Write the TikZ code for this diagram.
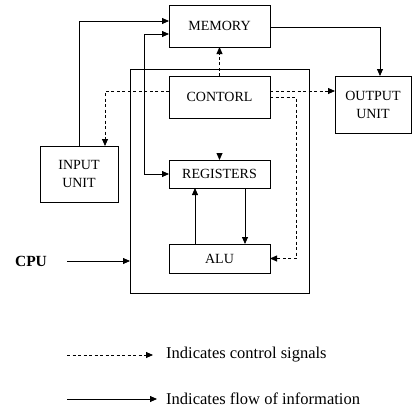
\documentclass[tikz,border=0pt]{standalone}
\usepackage{fontspec}
\setmainfont{Liberation Serif}
\usetikzlibrary{arrows.meta, positioning}

\begin{document}
\begin{tikzpicture}[x=1pt,y=-1pt]
    \tikzstyle{unit} = [rectangle, draw, line width=0.8pt, inner sep=0pt, outer sep=0pt, minimum width=101pt, align=center, font=\fontsize{14}{18}\selectfont]
    \tikzstyle{frame} = [rectangle, draw, line width=0.8pt, inner sep=0pt, outer sep=0pt]
    \tikzstyle{arrow} = [-{Triangle[length=7pt,width=6pt]}, line width=0.8pt]
    \tikzstyle{ctrl} = [arrow, dash pattern=on 3pt off 2.5pt]
    \tikzstyle{note} = [anchor=west, inner sep=0pt, font=\fontsize{16.5}{20}\selectfont]
    \useasboundingbox (0,0) rectangle (412,416);
    \node (memory) [unit, minimum height=42pt] at (219.5,26) {MEMORY};
    \node (control) [unit, minimum height=42pt, below=29pt of memory] {CONTORL};
    \node (registers) [unit, minimum height=28pt, below=42pt of control] {REGISTERS};
    \node (alu) [unit, minimum height=29pt, below=56pt of registers] {ALU};
    \node (cpubox) [frame, minimum width=179pt, minimum height=224pt] at (219.5,181) {};
    \node (output) [unit, minimum width=76pt, minimum height=57pt] at (373,104.5) {OUTPUT\\UNIT};
    \node (input) [unit, minimum width=78pt, minimum height=56pt] at (79,174) {INPUT\\UNIT};
    \node (cpu) [inner sep=0pt, font=\fontsize{15.5}{18}\selectfont\bfseries] at (31,261) {CPU};
    \node (ctrlnote) [note] at (166,355) {Indicates control signals};
    \node (flownote) [note] at (166,399) {Indicates flow of information};
    \coordinate (ctrlout) at ([yshift=6pt]control.east);
    \coordinate (regstub) at ([yshift=7pt]registers.north);
    % information flow
    \draw [arrow] (input.north) |- ([yshift=5pt]memory.west);
    \draw [{Triangle[length=7pt,width=6pt]}-{Triangle[length=7pt,width=6pt]}, line width=0.8pt] ([yshift=-8pt]memory.west) -- ++(-25,0) |- (registers.west);
    \draw [arrow] ([yshift=-1pt]memory.east) -| ([xshift=7pt]output.north);
    \draw [arrow] ([xshift=-24.5pt]alu.north) -- ([xshift=-24.5pt]registers.south);
    \draw [arrow] ([xshift=25.5pt]registers.south) -- ([xshift=25.5pt]alu.north);
    \draw [arrow] ([xshift=20pt]cpu.east) -- (cpu.east -| cpubox.west);
    % control signals
    \draw [ctrl] (control.north) -- (memory.south);
    \draw [ctrl] ([yshift=6pt]control.west) -| ([xshift=26pt]input.north);
    \draw [ctrl] (ctrlout) -- (ctrlout -| output.west);
    \draw [ctrl] (control.east) -- ++(26,0) |- (alu.east);
    \draw [ctrl] (regstub) -- (registers.north);
    % legend
    \draw [ctrl] ([xshift=-99pt]ctrlnote.west) -- ([xshift=-13pt]ctrlnote.west);
    \draw [arrow] ([xshift=-99pt]flownote.west) -- ([xshift=-9pt]flownote.west);
\end{tikzpicture}
\end{document}
